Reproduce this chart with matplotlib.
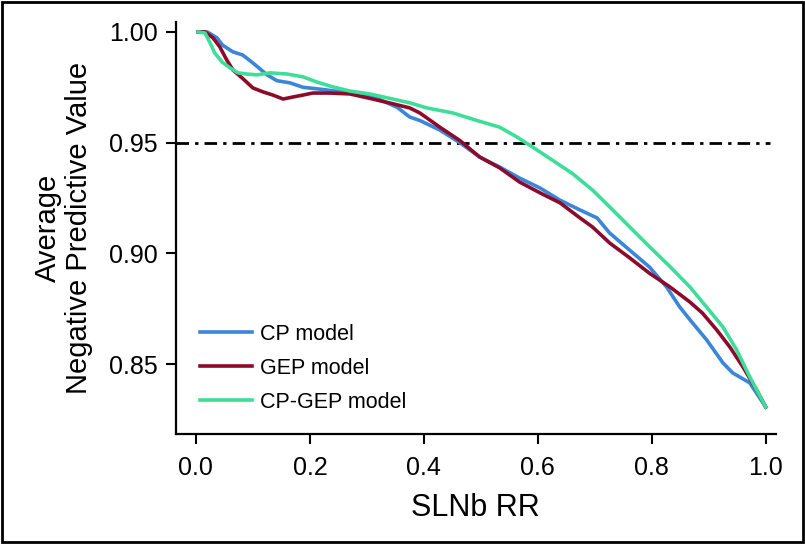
import matplotlib
matplotlib.use("Agg")
import matplotlib.pyplot as plt
from matplotlib.patches import Rectangle
from matplotlib import font_manager

# Values
cp_x = [0.004, 0.02, 0.037, 0.047, 0.065, 0.082, 0.10, 0.125, 0.142, 0.165, 0.188, 0.223,
        0.253, 0.282, 0.318, 0.353, 0.375, 0.393, 0.428, 0.463, 0.498, 0.533, 0.568, 0.604,
        0.639, 0.674, 0.704, 0.726, 0.761, 0.796, 0.826, 0.849, 0.867, 0.896, 0.925, 0.942,
        0.972, 1.0]
cp_y = [1.0, 1.0, 0.9973, 0.994, 0.991, 0.9896, 0.986, 0.9806, 0.978, 0.977, 0.975, 0.974,
        0.973, 0.972, 0.970, 0.966, 0.9616, 0.960, 0.9557, 0.950, 0.9435, 0.939, 0.934, 0.9295,
        0.924, 0.9196, 0.916, 0.9092, 0.9015, 0.8938, 0.8848, 0.8758, 0.870, 0.861, 0.8505, 0.846,
        0.8415, 0.8306]

gep_x = [0.004, 0.016, 0.03, 0.042, 0.054, 0.065, 0.082, 0.10, 0.118, 0.135, 0.153, 0.17,
         0.188, 0.205, 0.235, 0.27, 0.305, 0.34, 0.375, 0.393, 0.428, 0.463, 0.498, 0.533,
         0.568, 0.604, 0.639, 0.674, 0.696, 0.726, 0.761, 0.796, 0.832, 0.867, 0.889, 0.914,
         0.937, 0.96, 0.984, 1.0]
gep_y = [1.0, 1.0, 0.9973, 0.9932, 0.9874, 0.9828, 0.979, 0.9747, 0.9729, 0.9715, 0.9697, 0.9706,
         0.9715, 0.9724, 0.9724, 0.972, 0.970, 0.9679, 0.9657, 0.9634, 0.957, 0.951, 0.9435, 0.9386,
         0.9322, 0.9273, 0.9228, 0.916, 0.9119, 0.9047, 0.898, 0.891, 0.8848, 0.878, 0.873, 0.8654,
         0.8577, 0.8487, 0.8383, 0.8306]

cpgep_x = [0.004, 0.016, 0.025, 0.033, 0.046, 0.06, 0.074, 0.089, 0.107, 0.13, 0.16, 0.188,
           0.212, 0.24, 0.27, 0.305, 0.34, 0.375, 0.405, 0.451, 0.493, 0.533, 0.563, 0.591,
           0.626, 0.661, 0.696, 0.726, 0.761, 0.796, 0.832, 0.867, 0.896, 0.925, 0.949, 0.972, 1.0]
cpgep_y = [1.0, 0.9995, 0.995, 0.9905, 0.9864, 0.9837, 0.9815, 0.981, 0.9806, 0.9815, 0.981, 0.9797,
           0.9774, 0.9752, 0.9733, 0.972, 0.970, 0.968, 0.9657, 0.9634, 0.960, 0.957, 0.9526, 0.948,
           0.942, 0.936, 0.9286, 0.921, 0.912, 0.903, 0.894, 0.8848, 0.8758, 0.8667, 0.8564, 0.8442,
           0.8306]

threshold = 0.95
x_ticks = [0.0, 0.2, 0.4, 0.6, 0.8, 1.0]
y_ticks = [0.85, 0.90, 0.95, 1.00]

installed = {f.name for f in font_manager.fontManager.ttflist}
base_font = "Liberation Sans"
label_font = "Liberation Sans Narrow" if "Liberation Sans Narrow" in installed else base_font
plt.rcParams["font.family"] = [base_font, "DejaVu Sans"]

fig = plt.figure(figsize=(8.05, 5.44), dpi=100)
ax = fig.add_axes([0.2186, 0.2022, 0.745, 0.7574])

ax.plot(cp_x, cp_y, color="#3b86d8", lw=2.6, label="CP model", zorder=3)
ax.plot(gep_x, gep_y, color="#8c0b2b", lw=2.6, label="GEP model", zorder=3)
ax.plot(cpgep_x, cpgep_y, color="#3fde98", lw=2.6, label="CP-GEP model", zorder=3)
ax.hlines(threshold, -0.035, 1.007, colors="black", lw=2.0,
          linestyles=(0, (4.5, 2.2, 1.2, 2.2)), zorder=2)

ax.set_xlim(-0.035, 1.0175)
ax.set_ylim(0.8184, 1.0045)
ax.set_xticks(x_ticks)
ax.set_xticklabels([f"{v:.1f}" for v in x_ticks])
ax.set_yticks(y_ticks)
ax.set_yticklabels([f"{v:.2f}" for v in y_ticks])

for side in ["top", "right"]:
    ax.spines[side].set_visible(False)
for side in ["left", "bottom"]:
    ax.spines[side].set_linewidth(1.6)
ax.tick_params(axis="both", direction="out", length=7, width=1.5, labelsize=18, pad=6)
ax.tick_params(axis="x", pad=9)

ax.set_xlabel("SLNb RR", fontsize=22, family=[label_font, "DejaVu Sans"], labelpad=9)
ax.set_ylabel("Average\nNegative Predictive Value", fontsize=21,
              family=[label_font, "DejaVu Sans"], labelpad=12, linespacing=1.1)

ax.legend(loc="lower left", bbox_to_anchor=(0.008, 0.005), frameon=False, fontsize=15.5,
          handlelength=2.4, handletextpad=0.4, labelspacing=0.6)

fig.patches.append(Rectangle((0.002, 0.003), 0.996, 0.994, transform=fig.transFigure,
                             fill=False, edgecolor="black", lw=2))

fig.savefig("out.png", dpi=100)
